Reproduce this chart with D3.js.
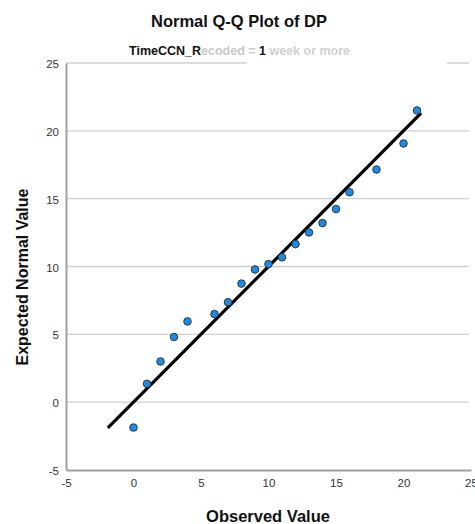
<!DOCTYPE html>
<html>
<head>
<meta charset="utf-8">
<script src="https://cdn.jsdelivr.net/npm/d3@7"></script>
<style>
  body { margin: 0; background: #fff; }
  text { font-family: "Liberation Sans", Arial, sans-serif; }
</style>
</head>
<body>
<script>
// data
var observed = [0, 1, 2, 3, 4, 6, 7, 8, 9, 10, 11, 12, 13, 14, 15, 16, 18, 20, 21];
var expected = [-1.87, 1.35, 3.0, 4.8, 5.95, 6.5, 7.37, 8.74, 9.78, 10.18, 10.68, 11.65, 12.51, 13.2, 14.24, 15.47, 17.15, 19.07, 21.5];
var lineEnds = [-1.9, 21.3];
var ticks = [-5, 0, 5, 10, 15, 20, 25];

var W = 475, H = 524;
var margin = {top: 63, right: 4, bottom: 54, left: 66};
var width = W - margin.left - margin.right,
    height = H - margin.top - margin.bottom;

var x = d3.scaleLinear().domain([-5, 25]).range([0, 405]);
var y = d3.scaleLinear().domain([-5, 25]).range([height, 0]);

var root = d3.select("body").append("svg")
    .attr("width", W).attr("height", H);

var svg = root.append("g")
    .attr("transform", "translate(" + margin.left + "," + margin.top + ")");

// horizontal grid lines
svg.append("g")
    .selectAll("line")
    .data(ticks.slice(1))
    .enter()
    .append("line")
    .attr("x1", 0).attr("x2", width - 2)
    .attr("y1", function(d) { return y(d); })
    .attr("y2", function(d) { return y(d); })
    .attr("stroke", "#d0d0d0")
    .attr("stroke-width", 1.3);

// axes (plain hyphen for negatives like the original)
var fmt = function(d) { return String(d); };
var yAxis = svg.append("g")
    .call(d3.axisLeft(y).tickValues(ticks).tickFormat(fmt).tickSize(0).tickPadding(7));
var xAxis = svg.append("g")
    .attr("transform", "translate(0," + height + ")")
    .call(d3.axisBottom(x).tickValues(ticks).tickFormat(fmt).tickSize(0).tickPadding(9));
[yAxis, xAxis].forEach(function(a) {
    a.select(".domain").attr("stroke", "#a0a0a0").attr("stroke-width", 2);
    a.selectAll("text")
        .style("font-size", "11.5px")
        .style("fill", "#333")
        .style("font-family", "'Liberation Sans', Arial, sans-serif");
});
yAxis.selectAll("text").attr("dy", "0.4em");

// reference line y = x
svg.append("line")
    .attr("x1", x(lineEnds[0])).attr("y1", y(lineEnds[0]))
    .attr("x2", x(lineEnds[1])).attr("y2", y(lineEnds[1]))
    .attr("stroke", "#000")
    .attr("stroke-width", 3.2);

// points
svg.append("g")
    .selectAll("circle")
    .data(observed)
    .enter()
    .append("circle")
    .attr("cx", function(d) { return x(d); })
    .attr("cy", function(d, i) { return y(expected[i]); })
    .attr("r", 3.8)
    .attr("fill", "#1b8be6")
    .attr("stroke", "#2a2a2a")
    .attr("stroke-width", 0.9);

// title
root.append("text")
    .attr("x", 239).attr("y", 27)
    .attr("text-anchor", "middle")
    .style("font-size", "16.5px")
    .style("font-weight", "bold")
    .style("fill", "#111")
    .text("Normal Q-Q Plot of DP");

// subtitle (partly faded in the original)
root.append("rect")
    .attr("x", margin.left + x(8.4)).attr("y", 42)
    .attr("width", 200).attr("height", 24)
    .attr("fill", "#fff");
var sub = root.append("text")
    .attr("x", 129).attr("y", 55)
    .style("font-size", "12.5px")
    .style("font-weight", "bold");
sub.append("tspan").attr("fill", "#111").text("TimeCCN_R");
sub.append("tspan").attr("fill", "#c8c8c8").text("ecoded =  ");
sub.append("tspan").attr("fill", "#111").text("1");
sub.append("tspan").attr("fill", "#d0d0d0").text(" week or more");

// axis labels
root.append("text")
    .attr("x", 268).attr("y", 522)
    .attr("text-anchor", "middle")
    .style("font-size", "16.5px")
    .style("font-weight", "bold")
    .style("fill", "#111")
    .text("Observed Value");

root.append("text")
    .attr("transform", "translate(28,277) rotate(-90)")
    .attr("text-anchor", "middle")
    .style("font-size", "16px")
    .style("font-weight", "bold")
    .style("fill", "#111")
    .text("Expected Normal Value");
</script>
</body>
</html>
